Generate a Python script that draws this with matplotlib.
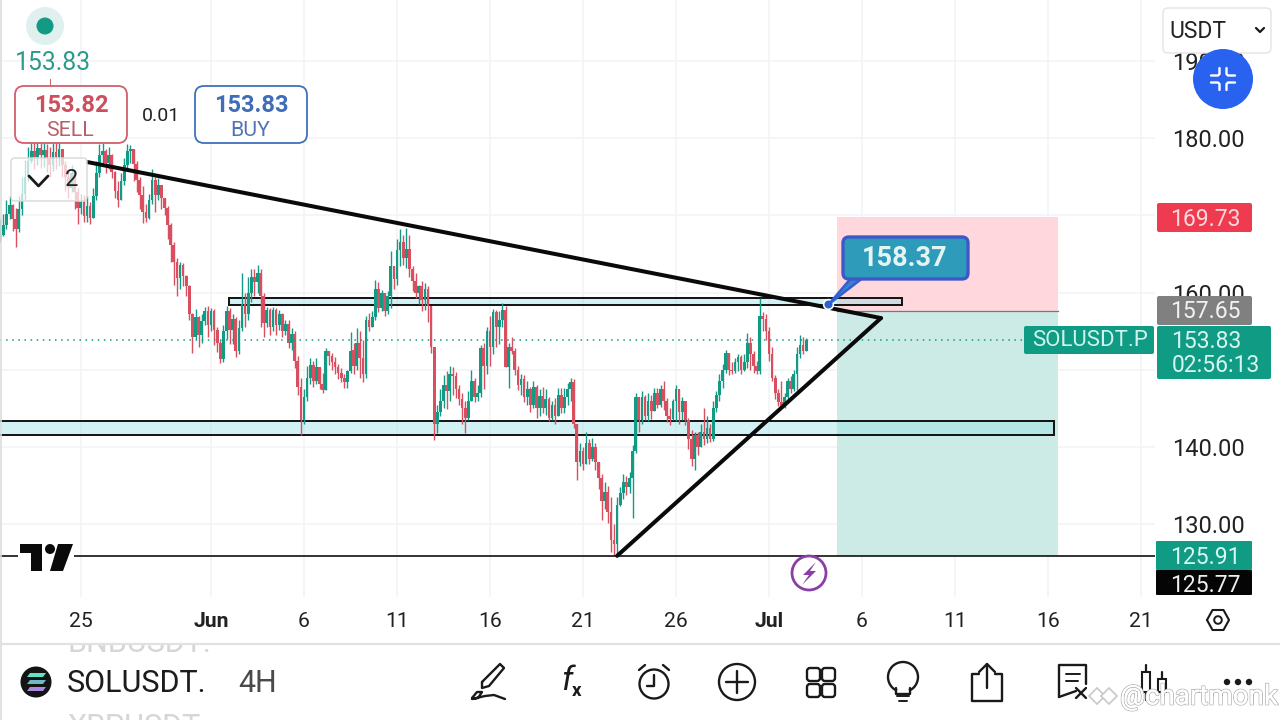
import matplotlib
matplotlib.use("Agg")
import numpy as np
import pandas as pd
import matplotlib.pyplot as plt
import matplotlib.dates as mdates
import matplotlib.patheffects as pe
from matplotlib.patches import Rectangle, FancyBboxPatch, Circle, Polygon

plt.rcParams['font.family'] = ['Roboto', 'DejaVu Sans']

# ---------------- data ----------------
START = "2025-05-20 16:00"
closes = [
 167.5,168.7,170.2,171.3,169.5,168.2,170.8,172.8,175.0,177.0,
 178.4,177.6,178.7,177.8,178.5,177.5,176.5,178.2,177.6,178.6,
 176.5,175.0,173.5,175.5,173.0,171.0,171.8,169.9,171.2,169.6,
 172.5,175.5,177.8,178.3,176.8,177.8,175.6,173.2,172.0,174.5,
 176.5,178.3,178.6,176.6,174.6,172.6,170.4,169.7,172.0,174.6,
 172.6,173.9,172.3,170.9,168.8,166.2,164.0,161.9,163.6,162.1,
 160.8,157.2,154.3,156.8,154.5,156.3,157.6,155.8,157.6,155.2,
 153.5,151.4,155.0,157.6,155.2,156.6,152.5,155.4,158.5,157.2,
 160.0,162.0,161.4,162.6,159.6,156.0,157.8,155.6,157.7,155.8,
 157.2,155.0,155.9,153.5,154.6,151.2,147.8,143.5,146.5,149.0,
 150.6,148.6,150.4,148.2,147.4,152.5,151.8,151.0,150.4,149.6,
 149.0,148.4,149.8,152.5,150.5,153.5,151.5,149.5,156.5,155.5,
 156.8,160.5,158.0,160.0,157.6,159.5,163.5,161.8,165.5,166.5,
 164.5,165.6,163.0,161.5,160.0,160.8,159.0,160.5,158.2,153.0,
 143.0,144.5,146.0,148.0,147.2,149.5,149.2,147.5,146.2,145.0,
 143.8,146.0,148.5,146.5,147.0,152.8,150.5,155.0,153.0,157.5,
 155.5,156.5,157.8,150.4,153.0,152.4,150.0,148.0,148.8,146.5,
 147.5,145.5,147.8,145.0,146.6,145.0,146.2,143.8,145.5,144.0,
 146.8,145.0,146.5,147.5,148.4,143.0,138.0,139.5,137.8,140.5,
 138.5,140.0,138.0,136.0,133.0,134.2,131.6,128.0,127.5,132.5,
 134.0,135.5,134.8,136.0,139.5,146.5,143.5,146.5,144.0,146.0,
 144.6,147.0,145.5,147.5,146.0,144.0,143.6,146.0,147.5,144.5,
 146.0,143.5,141.0,138.5,141.5,140.0,142.0,141.0,142.5,141.0,
 145.0,146.8,148.5,150.0,152.2,150.0,149.8,151.0,151.6,150.0,
 151.0,153.5,152.0,150.5,149.8,157.0,156.6,155.0,152.0,149.0,
 147.0,145.8,145.2,146.5,148.5,147.5,149.5,152.0,153.2,152.5,
 153.83]
highs = [
 169.5,170.2,172.0,172.5,171.5,171.0,172.5,175.0,177.2,178.8,
 180.0,179.6,180.2,179.8,180.0,179.2,178.8,179.9,179.6,180.0,
 178.5,177.0,175.8,176.5,175.6,173.5,172.8,172.6,172.5,171.8,
 173.5,177.0,179.2,179.4,178.6,178.8,177.9,175.8,174.5,175.5,
 177.5,179.3,179.1,178.6,177.0,175.0,173.8,171.5,172.8,176.0,
 175.0,174.8,174.0,172.0,171.2,169.0,166.5,164.5,164.0,163.8,
 162.3,161.0,157.3,157.9,157.0,157.2,158.1,158.2,158.0,157.9,
 155.5,153.8,155.8,158.3,158.0,157.2,156.9,156.5,162.5,160.0,
 162.0,163.0,163.0,163.6,163.0,160.0,158.1,158.0,158.1,158.0,
 157.8,157.4,156.5,156.4,155.4,155.0,151.8,149.0,147.5,150.5,
 151.5,151.2,151.5,149.8,149.6,152.8,152.4,152.2,151.6,150.8,
 150.2,149.4,150.0,154.9,153.5,155.4,155.0,153.8,157.0,157.4,
 157.6,161.6,161.4,160.4,160.0,160.2,165.4,163.0,167.0,168.2,
 167.4,168.4,167.4,163.5,162.5,161.0,161.5,161.2,160.8,157.0,
 153.0,145.5,147.5,149.3,149.8,150.5,150.4,149.7,148.0,147.0,
 146.0,147.3,150.0,149.0,148.0,153.2,153.5,155.5,157.0,157.9,
 157.8,157.6,158.6,158.3,153.5,154.2,152.8,150.5,149.5,149.3,
 148.6,147.8,148.6,148.0,147.5,147.8,147.5,146.5,146.0,146.4,
 147.6,147.6,147.7,148.3,149.0,148.8,143.0,140.5,140.0,142.0,
 141.0,141.2,140.5,137.8,136.5,135.5,135.0,133.5,130.0,133.5,
 134.8,136.5,136.3,136.8,140.3,147.0,146.5,147.3,146.8,147.0,
 146.7,147.7,147.6,148.0,148.6,146.3,145.0,146.2,148.0,147.0,
 146.5,145.5,143.8,142.2,142.0,142.0,143.0,145.0,144.0,143.0,
 146.0,147.3,149.5,150.8,152.6,151.5,151.0,151.5,152.0,151.9,
 152.0,154.8,154.3,152.4,151.2,159.3,157.5,157.2,155.5,153.0,
 149.3,147.5,148.6,147.0,149.0,149.2,150.0,153.0,154.5,154.2,
 154.1]
lows = [
 166.5,167.3,168.2,169.5,168.0,165.9,167.8,170.0,172.0,174.5,
 176.8,176.0,176.5,176.2,176.3,175.6,175.0,175.8,176.0,176.4,
 175.0,173.2,172.2,173.0,170.8,168.9,170.2,169.1,169.2,168.9,
 169.8,172.0,175.0,176.5,175.5,176.0,174.8,172.2,171.1,172.3,
 174.0,175.8,176.8,174.5,173.0,170.8,169.0,169.1,169.5,171.5,
 170.4,172.0,170.8,170.0,167.0,164.0,161.0,159.5,160.5,160.8,
 159.5,156.5,152.2,154.0,153.0,153.5,155.8,154.2,155.0,153.2,
 152.3,150.9,151.0,154.0,153.4,153.3,151.7,152.0,155.0,155.5,
 156.5,158.8,159.5,160.0,155.5,154.2,155.5,154.5,155.0,154.5,
 155.2,154.3,154.5,152.8,152.6,150.2,146.8,141.6,143.0,146.0,
 148.2,147.8,148.2,147.5,147.0,148.0,150.6,150.0,149.4,148.8,
 148.4,147.6,147.6,149.6,149.5,150.0,149.0,148.4,149.0,155.0,
 155.6,156.5,157.5,157.6,157.0,157.2,158.0,160.5,161.0,163.5,
 163.6,163.2,162.0,160.2,159.3,158.5,157.6,157.8,156.2,152.2,
 140.9,141.8,144.0,145.0,144.9,146.0,146.8,146.4,145.4,143.0,
 141.8,143.5,146.0,145.8,145.9,146.5,147.5,149.5,150.5,152.0,
 153.0,153.4,155.5,150.4,147.6,152.0,149.3,147.4,146.8,145.8,
 145.5,144.5,145.0,143.8,144.0,144.4,144.2,143.4,143.5,143.0,
 144.3,144.4,144.4,145.5,146.0,142.5,135.7,137.5,137.0,138.0,
 137.8,138.2,137.0,134.5,130.5,132.0,130.2,126.4,126.0,125.9,
 132.3,133.3,133.8,134.0,130.8,139.2,142.0,143.0,143.5,143.4,
 143.6,144.6,145.0,145.2,144.8,143.2,142.8,143.5,143.4,143.0,
 143.5,142.8,139.8,137.5,137.0,139.0,140.2,140.2,140.5,140.6,
 140.8,144.5,146.0,147.6,149.6,149.3,149.4,149.6,149.8,149.4,
 149.8,150.2,150.0,149.6,149.5,149.5,155.0,153.8,151.2,148.5,
 146.2,145.3,145.0,145.0,146.0,147.0,147.3,147.4,151.5,152.0,
 152.5]

price_ticks = [130, 140, 150, 160, 170, 180, 190]
price_labels = ["130.00", "140.00", "", "160.00", "", "180.00", "190.00"]
date_ticks = ["2025-05-25", "2025-06-01", "2025-06-06", "2025-06-11", "2025-06-16", "2025-06-21",
              "2025-06-26", "2025-07-01", "2025-07-06", "2025-07-11", "2025-07-16", "2025-07-21"]
date_labels = ["25", "Jun", "6", "11", "16", "21", "26", "Jul", "6", "11", "16", "21"]

last_price = 153.83
stop_price = 169.73
entry_price = 157.65
target_price = 125.91
low_price = 125.77
callout_price = 158.37

upper_zone = (158.4, 159.3, "2025-06-01 23:00", "2025-07-08 04:00")
lower_zone = (141.6, 143.4, "2025-05-20 00:00", "2025-07-16 08:00")
position_span = ("2025-07-04 16:00", "2025-07-16 13:00")
falling_line = (("2025-05-25 09:00", 176.9), ("2025-07-07 00:30", 156.7))
rising_line = (("2025-06-22 20:00", 125.9), ("2025-07-07 00:30", 156.7))
callout_anchor = ("2025-07-04 04:00", 158.5)

# ---------------- layout ----------------
W, H = 1280, 720
TEAL, RED, BLUE = "#139A85", "#D94F60", "#2A5FC9"
fig = plt.figure(figsize=(W / 100, H / 100), dpi=100, facecolor="white")
AX_W, AX_H = 1155, 597
ax = fig.add_axes([0, 1 - AX_H / H, AX_W / W, AX_H / H])
ui = fig.add_axes([0, 0, 1, 1], zorder=5)
ui.set_xlim(0, W); ui.set_ylim(H, 0); ui.axis("off"); ui.patch.set_alpha(0)

d0 = mdates.date2num(pd.Timestamp("2025-06-01"))
ax.set_xlim(d0 - 211 / 18.6, d0 + (AX_W - 211) / 18.6)
ax.set_ylim(140 - (AX_H - 447) / 7.72, 140 + 447 / 7.72)
for s in ax.spines.values():
    s.set_visible(False)

def dn(t):
    return mdates.date2num(pd.Timestamp(t))

# ticks and grid
ax.yaxis.tick_right()
ax.set_yticks(price_ticks, price_labels)
ax.set_xticks([dn(t) for t in date_ticks], date_labels)
ax.tick_params(axis="y", length=0, pad=12, labelsize=17, labelcolor="#222222")
ax.tick_params(axis="x", length=0, pad=11, labelsize=15.2, labelcolor="#222222")
for lab, txt in zip(ax.get_xticklabels(), date_labels):
    if txt in ("Jun", "Jul"):
        lab.set_fontweight("bold")
ax.grid(True, color="#F1F3F6", lw=1.2, zorder=0)
ax.set_axisbelow(True)

# position tool
span_left, span_w = dn(position_span[0]), dn(position_span[1]) - dn(position_span[0])
ax.add_patch(Rectangle((span_left, entry_price), span_w, stop_price - entry_price, fc="#FFD7DC", ec="none", zorder=1))
ax.add_patch(Rectangle((span_left, target_price), span_w, entry_price - target_price, fc="#CDEBE6", ec="none", zorder=1))
ax.plot([span_left, span_left + span_w], [entry_price] * 2, color="#777777", lw=0.9, zorder=1.2)

# zones
for lo, hi, t0, t1 in (upper_zone, lower_zone):
    ax.add_patch(Rectangle((dn(t0), lo), dn(t1) - dn(t0), hi - lo,
                           fc=(0.60, 0.88, 0.91, 0.45), ec="#111111", lw=1.4, zorder=2))

# candles
times = mdates.date2num(pd.date_range(START, periods=len(closes), freq="4h"))
c = np.array(closes); h = np.array(highs); l = np.array(lows)
o = np.r_[c[0] - 0.5, c[:-1]]
up = c >= o
cols = np.where(up, TEAL, RED)
ax.vlines(times, np.minimum(l, np.minimum(o, c)), np.maximum(h, np.maximum(o, c)), colors=cols, lw=1.0, zorder=3)
ax.bar(times, np.abs(c - o), bottom=np.minimum(o, c), width=0.14, color=cols, lw=0, zorder=3)

# horizontal lines
ax.axhline(target_price, color="#111111", lw=1.2, zorder=3.5)
ax.plot([ax.get_xlim()[0], d0 + (1024 - 211) / 18.6], [last_price] * 2, color=TEAL, lw=1.1,
        ls=(0, (1, 3)), zorder=3.2)

# trend lines
for (a, b) in (falling_line, rising_line):
    ax.plot([dn(a[0]), dn(b[0])], [a[1], b[1]], color="#0A0A0A", lw=2.9, zorder=4, solid_capstyle="round")

# callout anchor
ax.plot([dn(callout_anchor[0])], [callout_anchor[1]], "o", ms=7, mfc="#2A62D0", mec="white", mew=1.2, zorder=6)

# ---------- pixel overlay: app interface ----------
def box(x0, y0, x1, y1, fc, ec="none", lw=1.0, r=3, alpha=None, z=3):
    p = FancyBboxPatch((x0 + r, y0 + r), x1 - x0 - 2 * r, y1 - y0 - 2 * r,
                       boxstyle=f"round,pad={r},rounding_size={r}", fc=fc, ec=ec, lw=lw, alpha=alpha, zorder=z)
    ui.add_patch(p)

def label(x, y, s, size=16, color="#222222", weight="normal", ha="center", z=6, **kw):
    return ui.text(x, y + 1, s, fontsize=size, color=color, fontweight=weight, ha=ha, va="center", zorder=z, **kw)

def stroke(xs, ys, lw=2.0, color="#1A1A1A", z=6):
    ui.plot(xs, ys, color=color, lw=lw, solid_capstyle="round", solid_joinstyle="round", zorder=z)

# left edge
ui.plot([0.5, 0.5], [0, H], color="#DDDDDD", lw=1.2, zorder=1)

# top-left widgets
ui.add_patch(Circle((45, 26), 19, fc="#DFF0EE", ec="none", zorder=3))
ui.add_patch(Circle((45, 26), 8.5, fc=TEAL, ec="none", zorder=4))
label(53, 62, f"{last_price:.2f}", size=17.8, color="#2B9A8B")
stroke([50, 50], [79, 87], lw=0.8, color="#D06A75", z=2)
box(15, 86, 127, 143, "white", ec="#D0606C", lw=1.3, r=9)
label(71, 104, "153.82", size=17, color="#CC4F5E", weight="bold")
label(70, 129, "SELL", size=15.3, color="#B8606A")
label(161, 115, "0.01", size=14, color="#222222")
box(195, 86, 307, 143, "white", ec="#3F70BC", lw=1.3, r=9)
label(251, 104, "153.83", size=17, color="#3F6DB8", weight="bold")
label(250, 129, "BUY", size=15.3, color="#4F75B8")
box(11, 158, 87, 201, (1, 1, 1, 0.72), ec="#D8D8D8", lw=1.0, r=4)
stroke([29, 38.5, 48], [176, 186, 176], lw=2.0)
label(72, 179, "2", size=17, color="#222222")

# top-right widgets
box(1163, 8, 1271, 53, "white", ec="#E3E3E3", lw=1.0, r=5, z=3)
label(1169, 30, "USDT", size=16.5, ha="left")
stroke([1256, 1260, 1264], [28, 32, 28], lw=1.6)
ui.add_patch(Circle((1223, 79), 30, fc="#2962EE", ec="none", zorder=4))
for sx, sy in ((-1, -1), (1, -1), (-1, 1), (1, 1)):
    stroke([1223 + sx * 12, 1223 + sx * 5, 1223 + sx * 3.5, 1223 + sx * 3.5],
           [79 + sy * 3.5, 79 + sy * 3.5, 79 + sy * 5, 79 + sy * 11], lw=1.7, color="white")

# right price tags
box(1157, 203, 1252, 232, "#EF3B50", r=2)
label(1205, 218, f"{stop_price:.2f}", size=16.5, color="#FBD9DD")
box(1157, 296, 1252, 325, "#808080", r=2)
label(1205, 311, f"{entry_price:.2f}", size=16.5, color="#F2F2F2")
box(1024, 326, 1154, 354, "#109B85", r=2)
label(1090, 340, "SOLUSDT.P", size=16, color="#CFF3EC")
box(1157, 326, 1271, 379, "#109B85", r=2)
label(1206, 340, f"{last_price:.2f}", size=16.5, color="#D8F5EF")
label(1216, 365, "02:56:13", size=16.5, color="#D8F5EF")
box(1156, 541, 1252, 570, "#109B85", r=1)
label(1205, 556, f"{target_price:.2f}", size=16.5, color="#D8F5EF")
box(1156, 570, 1252, 595, "#050505", r=1)
label(1205, 585, f"{low_price:.2f}", size=16.5, color="#EEEEEE")

# callout
ui.add_patch(Polygon([(829, 304), (852, 277), (864, 277)], fc="#3A7FD0", ec="#2F5FD0", lw=1.8, zorder=4))
box(843, 237, 968, 279, "#2F9BBB", ec="#3F58C8", lw=2.4, r=6, z=4.1)
label(905, 257, f"{callout_price:.2f}", size=19.5, color="#E3F5F2", weight="bold")

# lightning mark
ui.add_patch(Circle((809, 573), 17, fc="white", ec="#8A3FA6", lw=2.0, zorder=4))
ui.add_patch(Polygon([(816, 562), (803, 575), (809, 575), (802, 585), (816, 571), (810, 571)],
                     fc="#8A3FA6", ec="none", zorder=5))

# logo
ui.add_patch(Rectangle((18, 543), 56, 30, fc="white", ec="none", zorder=3))
ui.add_patch(Polygon([(20, 544), (42, 544), (42, 571), (31, 571), (31, 553), (20, 553)], fc="#0A0A0A", ec="none", zorder=4))
ui.add_patch(Circle((50, 549), 5, fc="#0A0A0A", ec="none", zorder=4))
ui.add_patch(Polygon([(58, 544), (73, 544), (63, 571), (50, 571)], fc="#0A0A0A", ec="none", zorder=4))

# settings hexagon
stroke([1207, 1212.5, 1223.5, 1229, 1223.5, 1212.5, 1207], [620, 610, 610, 620, 630, 630, 620], lw=1.5)
ui.add_patch(Circle((1218, 620), 3.8, fc="none", ec="#1A1A1A", lw=1.4, zorder=6))

# bottom toolbar
ui.plot([0, W], [644, 644], color="#E1E1E1", lw=1.6, zorder=3)
ghost_top = label(67, 642, "BNBUSDT.", size=22, color="#D6D6D6", ha="left", z=2.7)
ghost_top.set_clip_path(Rectangle((0, 645), W, 14, transform=ui.transData))
ghost_top.set_clip_on(True)
label(67, 726, "XRPUSDT.", size=22, color="#D6D6D6", ha="left", z=2.7)
ui.add_patch(Circle((36, 682), 15.5, fc="#141414", ec="none", zorder=4))
for yy, cc in ((675, "#63E3C0"), (682, "#6FB7C9"), (689, "#A88BE0")):
    ui.add_patch(Polygon([(27, yy + 2), (43, yy + 2), (46, yy - 2), (30, yy - 2)], fc=cc, ec="none", zorder=5))
label(67, 682, "SOLUSDT.", size=22, color="#1C1C1C", ha="left")
label(238, 682, "4H", size=22, color="#4A4A4A", ha="left")

# pen
stroke([482, 500, 504, 489, 482, 482], [682, 664, 668, 686, 688, 682], lw=1.7)
stroke([472, 477, 482, 478, 472, 485, 494, 505], [698, 692, 692, 698, 699, 696, 695, 699], lw=1.7)
# fx
label(567, 680, "f", size=24, color="#1A1A1A", style="italic")
label(577, 690, "x", size=13.5, color="#1A1A1A", weight="bold")
# alarm
ui.add_patch(Circle((654, 684), 14.5, fc="none", ec="#1A1A1A", lw=1.7, zorder=6))
stroke([654, 654, 647], [675, 686, 686], lw=1.7)
stroke([639, 645], [670, 665], lw=1.7); stroke([663, 669], [665, 670], lw=1.7)
# plus
ui.add_patch(Circle((737, 682), 18, fc="none", ec="#1A1A1A", lw=1.7, zorder=6))
stroke([726, 748], [682, 682], lw=1.7); stroke([737, 737], [671, 693], lw=1.7)
# grid
for xx, yy in ((807, 668), (822, 668), (807, 684), (822, 684)):
    box(xx, yy, xx + 13, yy + 13, "none", ec="#1A1A1A", lw=1.7, r=3, z=6)
# bulb
ui.add_patch(Circle((903, 677), 15, fc="none", ec="#1A1A1A", lw=1.7, zorder=6))
ui.add_patch(Rectangle((895, 690), 16, 5, fc="white", ec="none", zorder=6.1))
stroke([896, 896, 910, 910], [688, 694, 694, 688], lw=1.7, z=6.2)
stroke([897, 909], [696, 696], lw=1.4); stroke([899, 907], [701, 701], lw=1.4)
# share
stroke([979, 972, 972, 1002, 1002, 995], [674, 674, 701, 701, 674, 674], lw=1.7)
stroke([987, 987], [664, 688], lw=1.7); stroke([979, 987, 995], [672, 664, 672], lw=1.7)
# note
stroke([1059, 1059, 1086, 1086], [697, 665, 665, 684], lw=1.7)
stroke([1059, 1076], [697, 691], lw=1.7)
stroke([1066, 1080], [674, 674], lw=1.4); stroke([1066, 1078], [681, 681], lw=1.4)
stroke([1076, 1086], [688, 698], lw=1.7); stroke([1086, 1076], [688, 698], lw=1.7)
# candles icon
for xx, y0, y1, y2, y3 in ((1146, 665, 672, 692, 700), (1162, 672, 679, 692, 698)):
    stroke([xx, xx], [y0, y1], lw=1.6); stroke([xx, xx], [y2, y3], lw=1.6)
    ui.add_patch(Rectangle((xx - 4, y1), 8, y2 - y1, fc="white", ec="#1A1A1A", lw=1.5, zorder=6))
# dots
for xx in (1227, 1238, 1249):
    ui.add_patch(Circle((xx, 682), 3.2, fc="#1A1A1A", ec="none", zorder=6))

# watermark
wm = label(1120, 696, "@chartmonk", size=20, color="white", ha="left", z=7)
wm.set_path_effects([pe.withStroke(linewidth=1.2, foreground="#B0B0B0"), pe.Normal()])
for cx in (1097, 1109):
    ui.add_patch(Polygon([(cx - 8, 696), (cx, 688), (cx + 8, 696), (cx, 704)], fc="white", ec="#C8C8C8", lw=1.2, zorder=7))

fig.savefig("out.png", dpi=100)
